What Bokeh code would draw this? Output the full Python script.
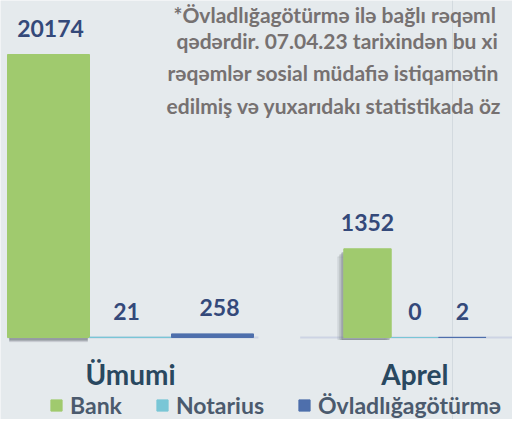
from bokeh.plotting import figure
from bokeh.models import Range1d, ColumnDataSource, Legend, LegendItem
from bokeh.core.properties import value
from bokeh.embed import file_html
from bokeh.resources import INLINE

# ---- data ----
series = ["Bank", "Notarius", "Övladlığagötürmə"]
series_colors = ["#A0CA6E", "#79C6D6", "#4E6FAC"]
groups = ["Ümumi", "Aprel"]
umumi_values = [20174, 21, 258]
aprel_values = [1352, 0, 2]
note_lines = [
    "*Övladlığagötürmə ilə bağlı rəqəml",
    "qədərdir. 07.04.23 tarixindən bu xi",
    "rəqəmlər sosial müdafiə istiqamətin",
    "edilmiş və yuxarıdakı statistikada öz",
]

# ---- layout constants (pixels) ----
W, H = 512, 419
BG = "#E5EAED"
FONT = value("Lato")
zero_px = 337
u_unit, u_c0, u_top_px = 82, 48, 54
a_unit, a_c0, a_top_px = 47.4, 367, 248.3

ku = umumi_values[0] / (zero_px - u_top_px)
ka = aprel_values[0] / (zero_px - a_top_px)

p = figure(width=W, height=H, output_backend="svg", toolbar_location=None,
           x_range=Range1d(0, W), y_range=Range1d(H, 0),
           min_border=0, background_fill_color=BG, border_fill_color=BG,
           outline_line_color=None)
p.axis.visible = False
p.grid.visible = False

p.extra_x_ranges = {
    "ux": Range1d(-u_c0 / u_unit, (W - u_c0) / u_unit),
    "ax": Range1d(-a_c0 / a_unit, (W - a_c0) / a_unit),
}
p.extra_y_ranges = {
    "uy": Range1d(-(H - zero_px) * ku, zero_px * ku),
    "ay": Range1d(-(H - zero_px) * ka, zero_px * ka),
}

idx = list(range(len(series)))
src_u = ColumnDataSource(dict(x=idx, top=umumi_values, color=series_colors,
                              label=[str(v) for v in umumi_values], dx=[2, -4, 7]))
src_a = ColumnDataSource(dict(x=idx, top=aprel_values, color=series_colors,
                              label=[str(v) for v in aprel_values], dx=[0, 0, 0]))

# faint text-box border line
p.segment(x0=[452], y0=[0], x1=[452], y1=[H], line_color="#D3DADF", line_width=1)

# axis baselines
p.segment(x0=[-0.5], y0=[0], x1=[2.56], y1=[0], line_color="#CDD4E4", line_width=2,
          x_range_name="ux", y_range_name="uy")
p.segment(x0=[-1.42], y0=[0], x1=[3.3], y1=[0], line_color="#CDD4E4", line_width=2,
          x_range_name="ax", y_range_name="ay")

# shadows
b = series.index("Bank")
for k, a in [(1, 0.45), (2.5, 0.3), (4, 0.15)]:
    p.vbar(x=[b], width=0.95, top=[-0.8 * k * ku], bottom=[-(0.8 * k + 1) * ku],
           color="#6E757D", alpha=a, x_range_name="ux", y_range_name="uy")
for k, a in [(2, 0.35), (4, 0.22), (6, 0.12)]:
    p.vbar(x=[b - k / a_unit], width=1, top=[aprel_values[b] - (k + 2) * ka], bottom=[-2 * ka],
           color="#6E757D", alpha=a, x_range_name="ax", y_range_name="ay")

r_u = p.vbar(x="x", top="top", width=1, color="color", source=src_u,
             x_range_name="ux", y_range_name="uy")
r_a = p.vbar(x="x", top="top", width=1, color="color", source=src_a,
             x_range_name="ax", y_range_name="ay")

for src, xr, yr in [(src_u, "ux", "uy"), (src_a, "ax", "ay")]:
    p.text(x="x", y="top", text="label", source=src, x_offset="dx", y_offset=-26,
           text_align="center", text_baseline="alphabetic", text_font=FONT,
           text_font_style="bold", text_font_size="23px", text_color="#34497A",
           x_range_name=xr, y_range_name=yr)

# category labels
for g, xr in zip(groups, ["ux", "ax"]):
    p.text(x=[1], y=[373], text=[g], text_align="center", text_baseline="alphabetic",
           text_font=FONT, text_font_style="bold", text_font_size="28px",
           text_color="#294860", x_range_name=xr)

# note text
note_x = [173, 176, 167, 166]
note_y = [14, 40, 72, 104.5]
p.text(x=note_x, y=note_y, text=note_lines, text_align="left", text_baseline="alphabetic",
       text_font=FONT, text_font_style="bold", text_font_size="21px", text_color="#767171")

legend = Legend(items=[LegendItem(label=s, renderers=[r_u], index=i) for i, s in enumerate(series)],
                orientation="horizontal", location=(49, 0), glyph_width=14, glyph_height=14,
                label_standoff=7, spacing=33, padding=0, margin=0,
                label_text_font="Lato", label_text_font_style="bold", label_text_font_size="23px",
                label_text_color="#4B5A6D", border_line_color=None, background_fill_alpha=0)
p.add_layout(legend, "center")

open("out.html", "w").write(file_html(p, INLINE))
